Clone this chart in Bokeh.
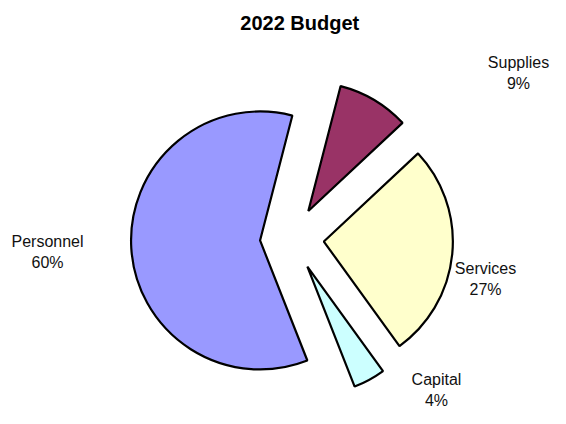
import numpy as np
from bokeh.plotting import figure
from bokeh.models import Range1d, ColumnDataSource
from bokeh.embed import file_html
from bokeh.resources import INLINE
from bokeh.core.properties import value

# ---- data ----
chart_title = "2022  Budget"
categories = ["Supplies", "Services", "Capital", "Personnel"]
shares = [9, 27, 4, 60]          # percent of budget
colors = ["#993366", "#FFFFCC", "#CCFFFF", "#9999FF"]

# ---- layout (pixels from top-left of the figure; y is negated) ----
W, H = 550, 408
center = (291.5, -238.0)
radius = 129
explode = 32
first_angle = 14.5               # degrees clockwise from 12 o'clock
label_pos = [(518, -62), (485, -268), (436, -379), (47, -241)]
line_gap = 21
FONT = "Liberation Sans"

p = figure(width=W, height=H, x_range=Range1d(0, W), y_range=Range1d(-H, 0),
           output_backend="svg", toolbar_location=None, min_border=0,
           x_axis_type=None, y_axis_type=None)
p.grid.visible = False
p.outline_line_color = None
p.background_fill_color = "white"

vals = np.array(shares, dtype=float)
spans = vals / vals.sum() * 360.0
cw_start = first_angle + np.concatenate([[0], np.cumsum(spans)[:-1]])
cw_end = cw_start + spans
cw_mid = (cw_start + cw_end) / 2

cx = center[0] + explode * np.sin(np.radians(cw_mid))
cy = center[1] + explode * np.cos(np.radians(cw_mid))

src = ColumnDataSource(dict(
    x=cx, y=cy,
    start=np.radians(90 - cw_end), end=np.radians(90 - cw_start),
    color=colors,
))
p.wedge(x="x", y="y", radius=radius, start_angle="start", end_angle="end",
        direction="anticlock", fill_color="color", line_color="black",
        line_width=2.2, source=src)

lx = [pt[0] for pt in label_pos]
ly = [pt[1] for pt in label_pos]
p.text(x=lx, y=ly, text=categories, text_align="center", text_baseline="middle",
       text_font=value(FONT), text_font_size="16px", text_color="#111111")
p.text(x=lx, y=[v - line_gap for v in ly], text=[f"{s}%" for s in shares],
       text_align="center", text_baseline="middle",
       text_font=value(FONT), text_font_size="16px", text_color="#111111")

p.text(x=[302], y=[-22], text=[chart_title], text_align="center", text_baseline="middle",
       text_font=value(FONT), text_font_size="20px", text_font_style="bold",
       text_color="black")

open("out.html", "w").write(file_html(p, INLINE))
